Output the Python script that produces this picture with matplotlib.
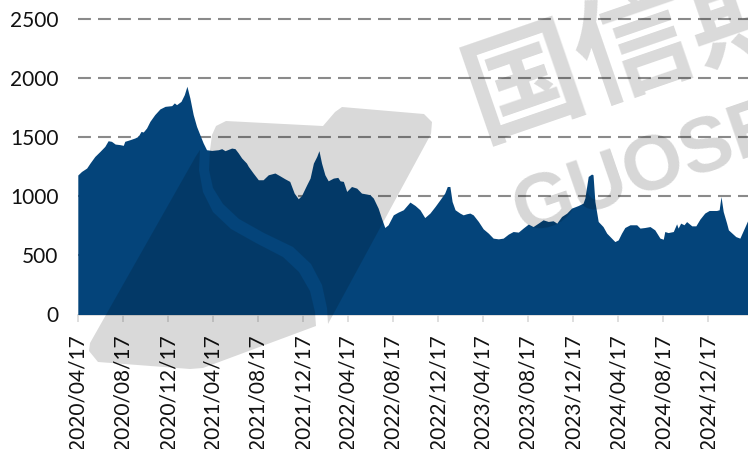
import matplotlib
matplotlib.use("Agg")
import matplotlib.pyplot as plt
from matplotlib.patches import Polygon
import pandas as pd

# Weekly index readings
dates = [
    "2020-04-17", "2020-04-27", "2020-05-11", "2020-05-20", "2020-06-02", "2020-06-16",
    "2020-06-29", "2020-07-08", "2020-07-17", "2020-07-27", "2020-08-09", "2020-08-18",
    "2020-08-22", "2020-09-05", "2020-09-18", "2020-09-27", "2020-10-05", "2020-10-11",
    "2020-10-20", "2020-10-29", "2020-11-11", "2020-11-25", "2020-12-09", "2020-12-27",
    "2021-01-03", "2021-01-09", "2021-01-21", "2021-01-30", "2021-02-06", "2021-02-14",
    "2021-02-23", "2021-03-04", "2021-03-13", "2021-03-22", "2021-03-31", "2021-04-14",
    "2021-05-02", "2021-05-11", "2021-05-20", "2021-06-07", "2021-06-16", "2021-06-25",
    "2021-07-04", "2021-07-17", "2021-07-22", "2021-08-04", "2021-08-18", "2021-08-31",
    "2021-09-14", "2021-10-02", "2021-10-15", "2021-10-29", "2021-11-11", "2021-11-23",
    "2021-12-04", "2021-12-13", "2021-12-27", "2022-01-05", "2022-01-14", "2022-01-23",
    "2022-01-29", "2022-02-05", "2022-02-14", "2022-02-23", "2022-03-09", "2022-03-21",
    "2022-03-27", "2022-04-05", "2022-04-14", "2022-04-27", "2022-05-11", "2022-05-24",
    "2022-06-07", "2022-06-16", "2022-06-25", "2022-07-08", "2022-07-17", "2022-07-26",
    "2022-08-04", "2022-08-18", "2022-08-31", "2022-09-14", "2022-10-02", "2022-10-16",
    "2022-10-29", "2022-11-11", "2022-11-25", "2022-12-09", "2022-12-22", "2023-01-04",
    "2023-01-11", "2023-01-18", "2023-01-24", "2023-02-01", "2023-02-14", "2023-02-23",
    "2023-03-04", "2023-03-13", "2023-03-22", "2023-04-05", "2023-04-18", "2023-05-02",
    "2023-05-15", "2023-05-29", "2023-06-11", "2023-06-25", "2023-07-08", "2023-07-22",
    "2023-08-04", "2023-08-18", "2023-08-31", "2023-09-14", "2023-09-27", "2023-10-11",
    "2023-10-24", "2023-11-03", "2023-11-16", "2023-11-30", "2023-12-13", "2023-12-31",
    "2024-01-13", "2024-01-18", "2024-01-27", "2024-02-05", "2024-02-09", "2024-02-14",
    "2024-02-23", "2024-03-07", "2024-03-17", "2024-03-30", "2024-04-08", "2024-04-17",
    "2024-04-26", "2024-05-05", "2024-05-19", "2024-06-06", "2024-06-15", "2024-06-28",
    "2024-07-12", "2024-07-25", "2024-08-08", "2024-08-17", "2024-08-21", "2024-08-30",
    "2024-09-13", "2024-09-22", "2024-09-26", "2024-10-03", "2024-10-12", "2024-10-19",
    "2024-11-02", "2024-11-13", "2024-11-24", "2024-12-07", "2024-12-19", "2025-01-08",
    "2025-01-15", "2025-01-20", "2025-01-26", "2025-02-04", "2025-02-09", "2025-03-01",
    "2025-03-12", "2025-03-26", "2025-04-03",
]
values = [
    1180, 1210, 1239, 1281, 1337, 1380,
    1422, 1470, 1465, 1442, 1437, 1431,
    1465, 1479, 1493, 1507, 1549, 1544,
    1578, 1634, 1691, 1739, 1761, 1767,
    1790, 1775, 1803, 1860, 1931, 1832,
    1691, 1592, 1521, 1451, 1394, 1388,
    1394, 1403, 1386, 1408, 1403, 1366,
    1324, 1281, 1253, 1197, 1140, 1140,
    1182, 1197, 1174, 1148, 1126, 1027,
    979, 1007, 1098, 1154, 1281, 1337,
    1386, 1281, 1182, 1131, 1154, 1160,
    1131, 1126, 1041, 1083, 1069, 1027,
    1019, 1013, 985, 900, 815, 736,
    759, 843, 866, 886, 951, 922,
    886, 820, 858, 914, 970, 1027,
    1083, 1083, 956, 886, 858, 843,
    852, 858, 843, 787, 725, 688,
    646, 640, 646, 680, 702, 697,
    731, 765, 744, 773, 801, 787,
    793, 773, 829, 858, 900, 922,
    942, 985, 1168, 1188, 1182, 956,
    787, 744, 688, 646, 617, 631,
    688, 736, 759, 759, 731, 736,
    744, 716, 646, 637, 702, 693,
    702, 767, 731, 773, 759, 786,
    750, 750, 807, 858, 880, 880,
    886, 998, 871, 775, 716, 659,
    646, 744, 801,
]

y_ticks = [0, 500, 1000, 1500, 2000, 2500]
tick_start, tick_end = "2020-04-17", "2024-12-17"
x_end = "2025-04-03"

AREA = "#04447A"
W, H = 748, 449

fig = plt.figure(figsize=(W / 100, H / 100), dpi=100)
ax = fig.add_axes([77.8 / W, 1 - 314.5 / H, 1 - 77.8 / W, (314.5 - 19) / H])

x = pd.to_datetime(dates)
ax.fill_between(x, values, 0, color=AREA, lw=0, zorder=2)

ax.set_ylim(0, 2500)
ax.set_xlim(pd.Timestamp(tick_start), pd.Timestamp(x_end))
ax.set_yticks(y_ticks)
ax.set_yticklabels([str(v) for v in y_ticks])

xt = pd.date_range(tick_start, tick_end, freq=pd.DateOffset(months=4))
ax.set_xticks(xt)
ax.set_xticklabels([d.strftime("%Y/%m/%d") for d in xt], rotation=90)

for v in y_ticks[1:]:
    ax.axhline(v, color="#8a8a8a", lw=1.5, dashes=(6.2, 3.4), zorder=1, clip_on=False)

for s in ("top", "right", "left"):
    ax.spines[s].set_visible(False)
ax.spines["bottom"].set_color("#d9d9d9")
ax.spines["bottom"].set_linewidth(1.2)
ax.spines["bottom"].set_zorder(1)

ax.tick_params(axis="y", length=0, pad=14, labelsize=15, labelcolor="#111111")
ax.tick_params(axis="x", length=5, width=1.2, color="#d9d9d9", pad=9,
               labelsize=15, labelcolor="#111111")
for lab in ax.get_xticklabels() + ax.get_yticklabels():
    lab.set_fontfamily("Lato")


def fp(pts):
    return [(px / W, 1 - py / H) for px, py in pts]


# Watermark: company logo and name
shade = dict(facecolor="black", alpha=0.15, lw=0, transform=fig.transFigure, zorder=5)
piece_a = [(98, 362), (89, 351), (90, 343), (196, 156), (200, 150),
           (199, 170), (203, 192), (213, 212), (231, 229), (256, 243), (283, 257),
           (299, 272), (310, 291), (315, 312), (316, 326),
           (203, 368), (190, 369)]
piece_b = [(210, 150), (209, 170), (213, 188), (223, 204), (239, 219), (264, 233),
           (293, 247), (311, 264), (322, 285), (327, 308), (328, 324),
           (431, 134), (432, 122), (424, 114), (342, 107), (335, 112), (323, 126),
           (226, 121), (216, 126), (212, 135)]
fig.add_artist(Polygon(fp(piece_a), closed=True, **shade))
fig.add_artist(Polygon(fp(piece_b), closed=True, **shade))

fig.text(690 / W, 1 - 30 / H, "国信期货", family=["Noto Sans CJK SC", "DejaVu Sans"],
         weight="bold", fontsize=84, color="black", alpha=0.15, rotation=19,
         ha="center", va="center", rotation_mode="anchor", zorder=5)
fig.text(675 / W, 1 - 160 / H, "GUOSEN", family="Liberation Sans", weight="bold",
         fontsize=56, color="black", alpha=0.16, rotation=19,
         ha="center", va="center", rotation_mode="anchor", zorder=5)

fig.savefig("out.png", dpi=100)
